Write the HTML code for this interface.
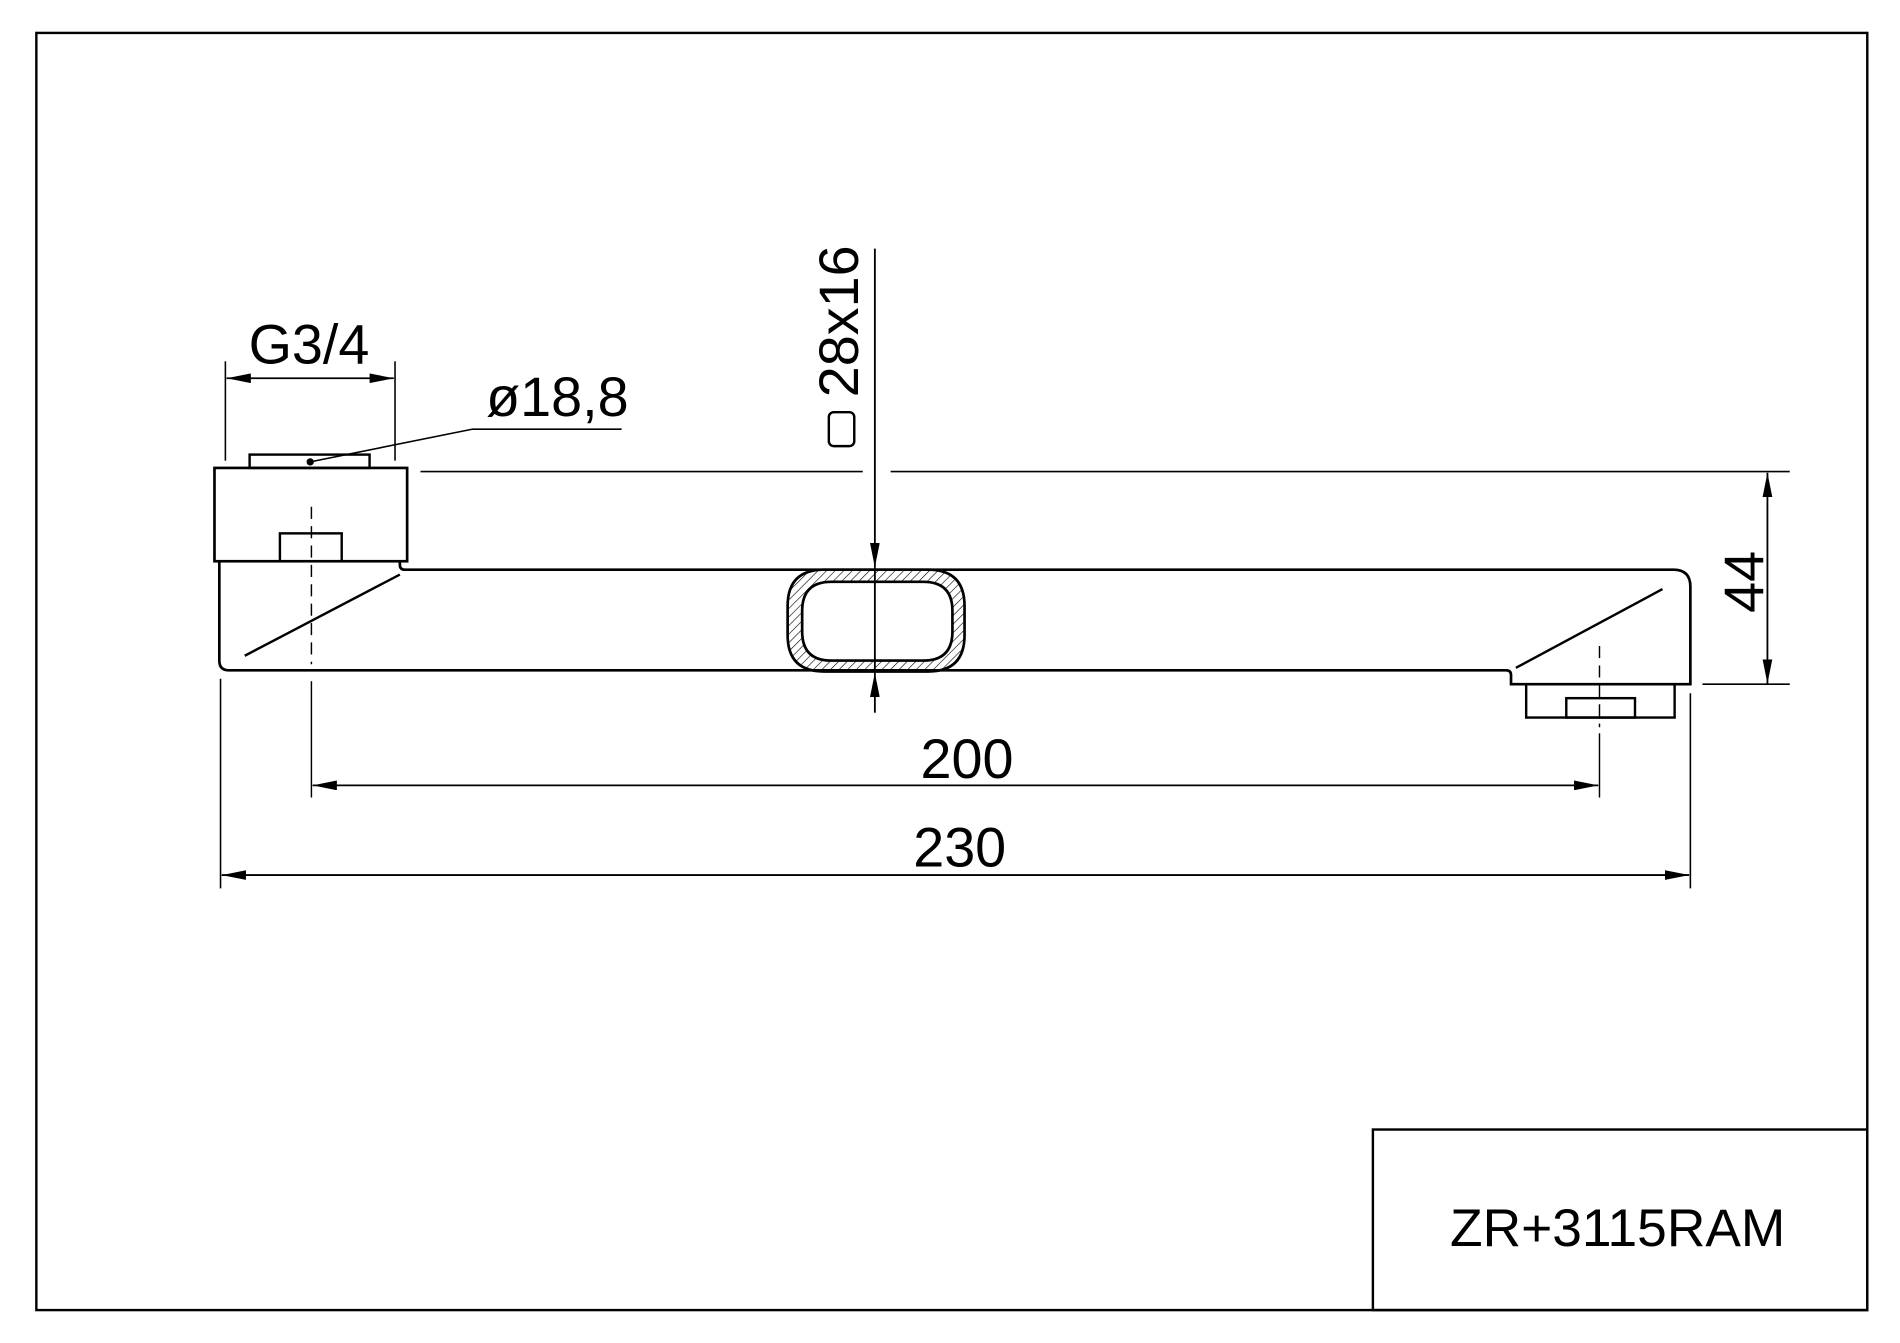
<!DOCTYPE html>
<html><head><meta charset="utf-8"><style>
html,body{margin:0;padding:0;background:#fff;}
svg{display:block;}
text{font-family:"Liberation Sans",sans-serif;fill:#000;}
</style></head><body>
<svg width="1900" height="1343" viewBox="0 0 1568 1108" xmlns="http://www.w3.org/2000/svg">
<defs>
<pattern id="h" width="5" height="5" patternUnits="userSpaceOnUse" patternTransform="rotate(45)">
<line x1="0" y1="0" x2="0" y2="5" stroke="#000" stroke-width="1"/>
</pattern>
<marker id="a" viewBox="0 0 20 8" refX="20" refY="4" markerWidth="20" markerHeight="8" markerUnits="userSpaceOnUse" orient="auto-start-reverse">
<path d="M0,0 L20,4 L0,8 z" fill="#000"/>
</marker>
</defs>
<g fill="none" stroke="#000">
<!-- frame -->
<rect x="30" y="27" width="1511" height="1054" stroke-width="2"/>
<rect x="1133" y="932" width="408" height="149" stroke-width="2"/>

<!-- left fitting -->
<rect x="206" y="375" width="99" height="11" stroke-width="2"/>
<rect x="177" y="386" width="159" height="77" stroke-width="2.2"/>
<rect x="231" y="440" width="51" height="23" stroke-width="2"/>

<!-- spout body -->
<path d="M181,463 L181,545 Q181,553 189,553 L1243,553 Q1247,553 1247,557 L1247,564.5 L1395,564.5 L1395,484 Q1395,470 1381,470 L334,470 Q330,470 330,466 L330,463" stroke-width="2.2"/>
<line x1="202" y1="541" x2="330" y2="474" stroke-width="2"/>
<line x1="1251" y1="551" x2="1372" y2="486" stroke-width="2"/>

<!-- right fitting -->
<rect x="1259.5" y="564.5" width="122.5" height="27.5" stroke-width="2"/>
<rect x="1292.6" y="576" width="56.7" height="16" stroke-width="2"/>

<!-- center lines -->
<line x1="257" y1="418" x2="257" y2="548" stroke-width="1.2" stroke-dasharray="10,6"/>
<line x1="257" y1="562" x2="257" y2="658" stroke-width="1.2"/>
<line x1="1320" y1="533" x2="1320" y2="600" stroke-width="1.2" stroke-dasharray="10,6"/>
<line x1="1320" y1="605" x2="1320" y2="658" stroke-width="1.2"/>

<!-- tube section -->
<path fill-rule="evenodd" fill="url(#h)" stroke-width="2.2" d="M680,470 L766,470 Q796,470 796,500 L796,524 Q796,554 766,554 L680,554 Q650,554 650,524 L650,500 Q650,470 680,470 Z M686,480 L762,480 Q786,480 786,504 L786,521 Q786,545 762,545 L686,545 Q662,545 662,521 L662,504 Q662,480 686,480 Z"/>
<line x1="722" y1="205" x2="722" y2="468" stroke-width="1.5" marker-end="url(#a)"/>
<line x1="722" y1="468" x2="722" y2="554" stroke-width="1.5"/>
<line x1="722" y1="588" x2="722" y2="555" stroke-width="1.5" marker-end="url(#a)"/>
<rect x="684" y="340" width="21" height="28" rx="4" stroke-width="2"/>

<!-- top ext line -->
<line x1="347" y1="389" x2="712" y2="389" stroke-width="1.3"/>
<line x1="735" y1="389" x2="1477" y2="389" stroke-width="1.3"/>
<line x1="1405" y1="564.5" x2="1477" y2="564.5" stroke-width="1.3"/>
<line x1="1458.6" y1="390" x2="1458.6" y2="564" stroke-width="1.5" marker-start="url(#a)" marker-end="url(#a)"/>

<!-- G3/4 -->
<line x1="186" y1="298" x2="186" y2="380" stroke-width="1.3"/>
<line x1="326" y1="298" x2="326" y2="380" stroke-width="1.3"/>
<line x1="187" y1="312" x2="325" y2="312" stroke-width="1.5" marker-start="url(#a)" marker-end="url(#a)"/>

<!-- ø18,8 leader -->
<polyline points="256,381 390,354 513,354" stroke-width="1.3"/>

<!-- 200 / 230 -->
<line x1="258" y1="648" x2="1319" y2="648" stroke-width="1.5" marker-start="url(#a)" marker-end="url(#a)"/>
<line x1="182" y1="560" x2="182" y2="733" stroke-width="1.3"/>
<line x1="1395" y1="572" x2="1395" y2="733" stroke-width="1.3"/>
<line x1="183" y1="722" x2="1394" y2="722" stroke-width="1.5" marker-start="url(#a)" marker-end="url(#a)"/>
</g>
<circle cx="256" cy="381" r="3" fill="#000"/>

<text x="255" y="300" font-size="46" text-anchor="middle">G3/4</text>
<text x="460" y="343" font-size="46" text-anchor="middle">ø18,8</text>
<text x="798" y="642" font-size="46" text-anchor="middle">200</text>
<text x="792" y="715" font-size="46" text-anchor="middle">230</text>
<text x="1335" y="1028" font-size="44" text-anchor="middle">ZR+3115RAM</text>
<text transform="translate(708,265) rotate(-90)" font-size="46" text-anchor="middle">28x16</text>
<text transform="translate(1455,480) rotate(-90)" font-size="46" text-anchor="middle">44</text>
</svg>
</body></html>
